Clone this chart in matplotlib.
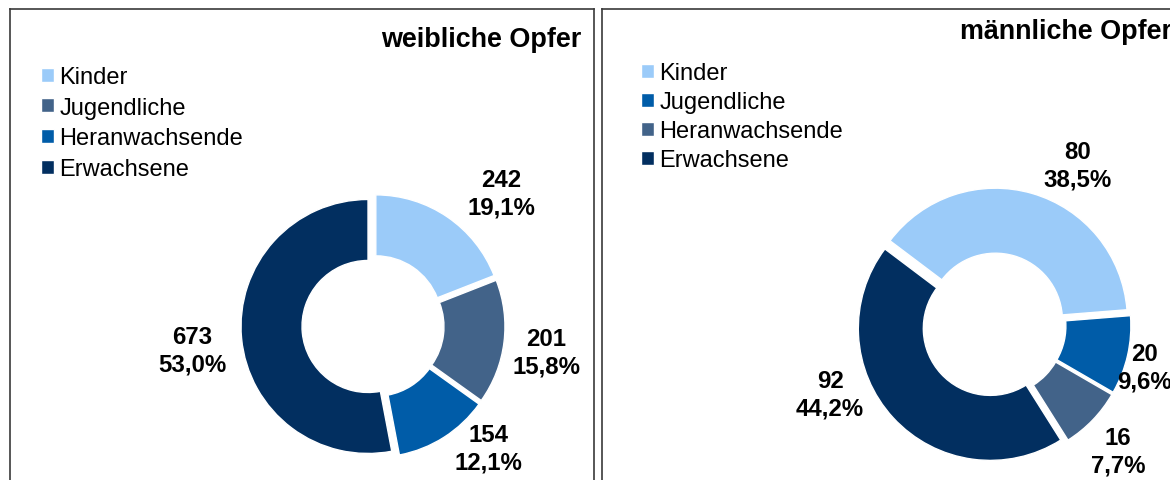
import matplotlib
matplotlib.use("Agg")
import matplotlib.pyplot as plt

plt.rcParams['font.family'] = ['Liberation Sans', 'DejaVu Sans']

# data
categories = ['Kinder', 'Jugendliche', 'Heranwachsende', 'Erwachsene']
female_values = [242, 201, 154, 673]
male_values = [80, 20, 16, 92]

LIGHT = '#9BCBF9'
SLATE = '#426389'
MEDIUM = '#005CA8'
DARK = '#022F60'
female_colors = [LIGHT, SLATE, MEDIUM, DARK]
male_colors = [LIGHT, MEDIUM, SLATE, DARK]

W, H = 1170, 481
fig = plt.figure(figsize=(W / 100, H / 100), dpi=100)


def label_text(v, total):
    pct = f"{100 * v / total:.1f}".replace('.', ',')
    return f"{v}\n{pct}%"


def panel(x0, width, values, colors, title, title_xy, title_ha, center, radius,
          hole, startangle, label_pos, legend_xy, legend_spacing):
    ax = fig.add_axes([x0 / W, -10 / H, width / W, 1.0])
    wedges, _ = ax.pie(values, colors=colors, startangle=startangle, counterclock=False,
                       radius=radius, center=center, explode=[5] * len(values),
                       wedgeprops=dict(width=radius - hole, edgecolor='white', linewidth=1))
    ax.set_aspect('auto')
    ax.set_xlim(x0, x0 + width)
    ax.set_ylim(-10, H - 10)
    ax.set_frame_on(True)
    for s in ax.spines.values():
        s.set_color('#3a3a3a')
        s.set_linewidth(1.2)
    ax.set_xticks([])
    ax.set_yticks([])

    total = sum(values)
    for v, (lx, ly) in zip(values, label_pos):
        ax.text(lx, H - ly, label_text(v, total), ha='center', va='center',
                fontsize=17.3, fontweight='bold', color='black', linespacing=1.25)

    ax.text(title_xy[0], H - title_xy[1], title, ha=title_ha, va='center',
            fontsize=19.4, fontweight='bold')

    ax.legend(wedges, categories, loc='upper left', frameon=False,
              bbox_to_anchor=((legend_xy[0] - x0) / width, (H - 10 - legend_xy[1]) / H),
              fontsize=17, handlelength=0.55, handleheight=0.55,
              handletextpad=0.22, labelspacing=legend_spacing,
              borderaxespad=0, borderpad=0)
    return ax


panel(10, 584, female_values, female_colors, 'weibliche Opfer', (581, 40), 'right',
      (373, H - 327), 127, 66, 90,
      [(501, 194), (546, 353), (488, 449), (192, 351)],
      (41, 47), 0.37)

panel(602, 590, male_values, male_colors, 'männliche Opfer', (960, 32), 'left',
      (994, H - 326), 132, 67, 143,
      [(1078, 166), (1145, 368), (1118, 452), (830, 395)],
      (641, 43), 0.3)

fig.savefig('out.png', dpi=100)
